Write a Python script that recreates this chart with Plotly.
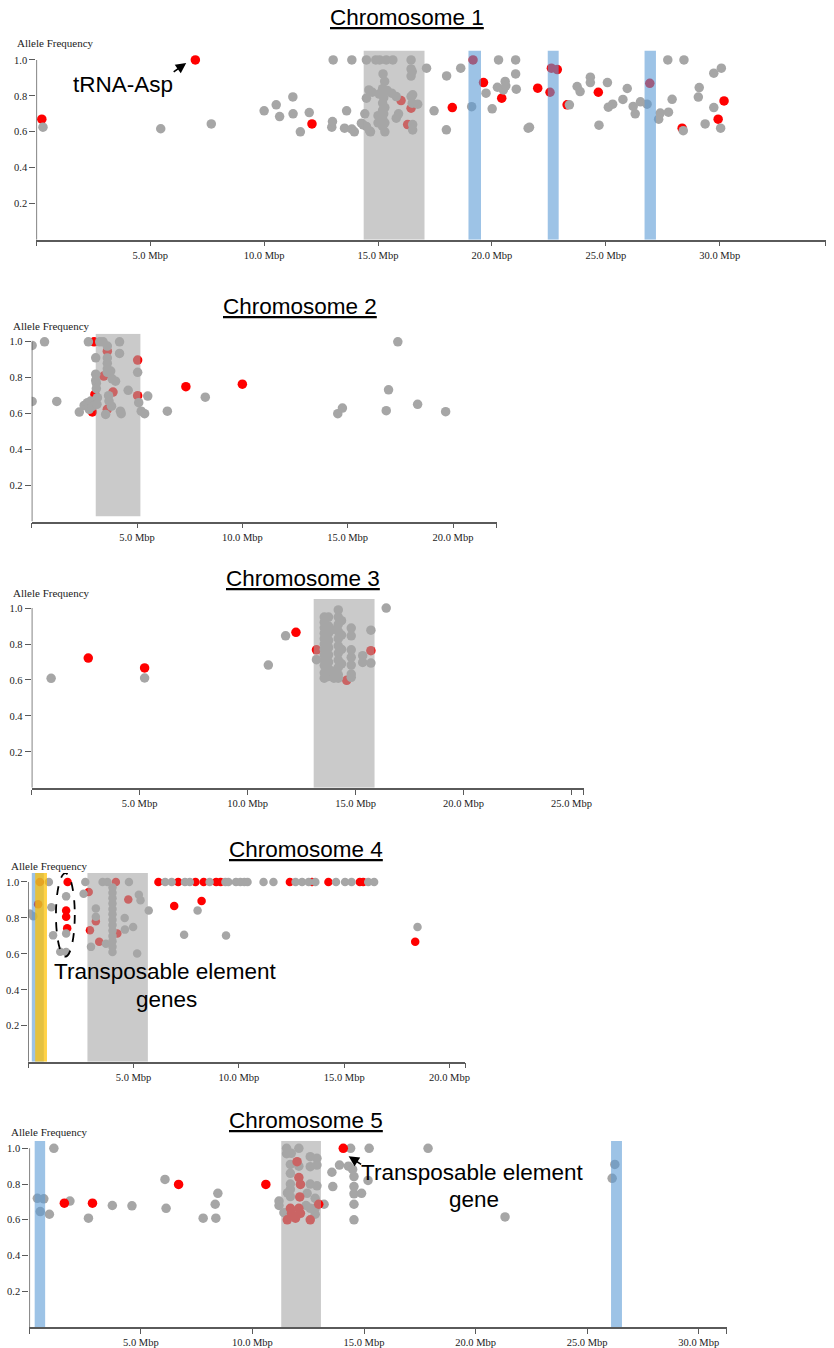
import plotly.graph_objects as go

W, H = 834, 1348

# ---------------- data (Mbp, allele frequency) ----------------
chr1_gray_mbp = [0.29, 5.46, 7.68, 10.0, 10.53, 10.68, 11.26, 11.27, 11.59, 11.98, 12.97, 13.0, 13.03, 13.53, 13.62,
                 13.85, 13.85, 13.96, 14.35, 14.42, 14.49, 14.67, 14.49, 14.6, 14.27, 14.49, 14.63, 14.9, 15.07, 15.36,
                 15.65, 16.45, 16.45, 16.45, 16.5, 15.22, 15.29, 15.2, 14.75, 15.05, 15.4, 15.6, 15.25, 15.2, 15.3,
                 15.2, 15.25, 15.2, 15.3, 15.2, 15.3, 15.0, 15.0, 15.8, 15.9, 15.8, 16.45, 16.5, 16.74, 16.52, 16.52,
                 16.52, 17.13, 17.46, 18.01, 18.0, 18.63, 19.11, 19.74, 20.01, 20.29, 20.24, 20.58, 20.5, 20.61, 21.04,
                 21.04, 21.07, 21.59, 21.65, 23.4, 23.74, 23.87, 24.32, 24.32, 25.07, 24.7, 25.11, 25.3, 25.75, 25.94,
                 26.2, 26.29, 26.52, 26.81, 27.32, 27.39, 27.72, 27.75, 27.91, 28.43, 28.4, 29.06, 29.1, 29.36, 29.74,
                 29.74, 30.07, 30.04]
chr1_gray_af = [0.626, 0.617, 0.644, 0.717, 0.75, 0.685, 0.794, 0.70, 0.60, 0.707, 0.626, 0.657, 1.0, 0.62, 0.717,
                1.0, 0.615, 0.60, 0.639, 0.70, 1.0, 0.60, 0.787, 0.833, 0.648, 0.63, 0.605, 1.0, 1.0, 1.0,
                1.0, 1.0, 0.95, 0.91, 0.935, 0.922, 0.88, 0.84, 0.82, 0.81, 0.83, 0.815, 0.79, 0.76, 0.735,
                0.72, 0.70, 0.674, 0.65, 0.63, 0.60, 0.69, 0.65, 0.676, 0.70, 0.796, 0.796, 0.759, 0.754, 0.806, 0.64,
                0.61, 0.954, 0.717, 0.911, 0.611, 0.954, 0.74, 0.815, 0.728, 1.0, 0.848, 0.88, 0.833, 0.856, 1.0,
                0.922, 0.837, 0.62, 0.625, 0.75, 0.852, 0.824, 0.904, 0.874, 0.874, 0.637, 0.737, 0.754, 0.78, 0.841,
                0.741, 0.70, 0.767, 0.754, 0.67, 0.704, 1.0, 0.709, 0.781, 1.0, 0.606, 0.793, 0.846, 0.644, 0.926,
                0.735, 0.954, 0.62]
chr1_red_mbp = [0.24, 6.98, 12.1, 16.01, 16.45, 16.3, 18.26, 19.17, 19.63, 20.43, 22.01, 22.61, 22.87, 22.55, 23.3,
                24.67, 26.93, 28.35, 29.93, 30.19]
chr1_red_af = [0.67, 1.0, 0.644, 0.774, 0.731, 0.64, 0.735, 1.0, 0.874, 0.787, 0.843, 0.954, 0.946, 0.82, 0.75,
               0.82, 0.87, 0.62, 0.67, 0.772]

chr2_gray_mbp = [0.02, 0.02, 0.61, 1.19, 2.26, 2.49, 2.6, 2.65, 2.8, 2.73, 2.88, 2.69, 3.23, 3.04, 3.04, 3.04, 3.07,
                 3.07, 3.12, 3.1, 3.39, 3.59, 3.59, 3.59, 3.59, 3.59, 3.75, 3.82, 3.98, 3.67, 3.79, 3.51, 3.65, 4.17,
                 4.17, 4.58, 4.21, 4.25, 5.03, 5.08, 5.2, 5.36, 5.51, 6.44, 8.24, 14.53, 14.75, 16.83, 16.94, 17.38,
                 18.32, 19.65]
chr2_gray_af = [0.98, 0.668, 1.0, 0.668, 0.609, 0.646, 0.652, 0.661, 0.67, 0.624, 0.64, 1.0, 1.0, 0.911, 0.82, 0.785,
                0.77, 0.74, 0.689, 0.652, 1.0, 0.976, 0.91, 0.88, 0.85, 0.83, 0.837, 0.794, 0.781, 0.67, 0.642, 0.596,
                0.70, 1.0, 0.935, 0.73, 0.614, 0.60, 0.83, 0.661, 0.614, 0.60, 0.698, 0.614, 0.692, 0.60, 0.631,
                0.617, 0.733, 1.0, 0.652, 0.611]
chr2_red_mbp = [2.96, 2.88, 3.0, 3.42, 3.59, 3.86, 3.59, 5.03, 5.03, 7.32, 10.0]
chr2_red_af = [1.0, 0.61, 0.707, 0.809, 0.948, 0.72, 0.624, 0.898, 0.70, 0.75, 0.764]

chr3_gray_mbp = [0.9, 5.23, 10.96, 11.76, 13.19, 16.42,
                 13.55, 13.55, 13.55, 13.55, 13.55, 13.55, 13.55, 13.55, 13.55, 13.55, 13.55, 13.55,
                 13.75, 13.75, 13.75, 13.75, 13.75, 13.75, 13.75, 13.75, 13.75,
                 14.2, 14.2, 14.2, 14.2, 14.2, 14.2, 14.2, 14.2, 14.2, 14.2, 14.2,
                 14.35, 14.35, 14.35, 14.35, 13.9, 13.9, 14.0,
                 14.8, 14.8, 14.8, 14.8, 14.8, 14.8, 14.8, 15.33, 15.33, 15.71, 15.71]
chr3_gray_af = [0.609, 0.611, 0.683, 0.846, 0.713, 1.0,
                0.95, 0.92, 0.89, 0.86, 0.83, 0.80, 0.77, 0.74, 0.71, 0.68, 0.64, 0.61,
                0.95, 0.90, 0.86, 0.82, 0.78, 0.74, 0.70, 0.66, 0.62,
                0.99, 0.95, 0.91, 0.87, 0.83, 0.79, 0.75, 0.71, 0.67, 0.63, 0.61,
                0.93, 0.85, 0.77, 0.69, 0.88, 0.65, 0.61,
                0.889, 0.846, 0.768, 0.726, 0.683, 0.633, 0.615, 0.735, 0.698, 0.877, 0.694]
chr3_red_mbp = [2.62, 5.23, 12.24, 13.19, 14.59, 15.71]
chr3_red_af = [0.722, 0.667, 0.865, 0.768, 0.598, 0.763]

chr4_gray_mbp = [0.07, 0.24, 0.98, 1.1, 1.18, 1.8, 1.8, 1.52, 1.8, 2.71, 2.63, 3.21, 3.21, 2.98, 3.53, 3.76, 4.78,
                 4.0, 4.0, 4.0, 4.0, 4.0, 4.0, 4.0, 4.0, 4.0, 4.0, 4.0, 4.0, 4.0,
                 3.69, 4.58, 4.59, 4.98, 5.17, 5.25, 5.33, 5.72,
                 6.5, 6.81, 7.44, 7.67, 8.61, 9.36, 9.5, 9.86, 10.07, 10.26, 10.41, 11.17, 11.64, 12.69, 13.0, 13.31,
                 13.63, 14.61, 15.04, 15.35, 16.14, 16.42,
                 8.04, 7.4, 9.39, 18.48]
chr4_gray_af = [0.824, 0.81, 1.0, 0.86, 0.703, 0.92, 0.713, 0.612, 0.611, 1.0, 0.935, 0.852, 0.806, 0.639, 1.0, 1.0, 1.0,
                0.97, 0.94, 0.91, 0.88, 0.85, 0.82, 0.79, 0.76, 0.73, 0.70, 0.67, 0.64, 0.61,
                0.657, 0.80, 0.735, 0.75, 0.602, 0.929, 0.898, 0.842,
                1.0, 1.0, 1.0, 1.0, 1.0, 1.0, 1.0, 1.0, 1.0, 1.0, 1.0, 1.0, 1.0, 1.0, 1.0, 1.0,
                1.0, 1.0, 1.0, 1.0, 1.0, 1.0,
                0.842, 0.707, 0.702, 0.75]
chr4_red_mbp = [0.55, 0.47, 1.87, 1.8, 1.8, 1.85, 2.87, 3.21, 2.93, 3.37, 4.16, 4.75, 4.23, 6.18, 7.12, 7.94, 8.33,
                8.92, 9.13, 12.42, 13.47, 14.25, 15.74, 15.9, 6.93, 8.23, 18.37]
chr4_red_af = [1.0, 0.876, 1.0, 0.842, 0.806, 0.742, 0.944, 0.781, 0.731, 0.667, 1.0, 0.902, 0.713, 1.0, 1.0, 1.0, 1.0,
               1.0, 1.0, 1.0, 1.0, 1.0, 1.0, 1.0, 0.867, 0.894, 0.667]

chr5_gray_mbp = [0.36, 0.65, 0.49, 0.9, 1.1, 1.82, 2.65, 3.72, 4.6, 6.08, 6.13, 7.79, 8.33, 8.45, 8.36,
                 11.19, 11.19, 11.74, 12.08, 11.53, 11.53, 11.7, 11.7, 11.7, 11.7, 11.7, 11.57, 12.08, 12.59, 12.89,
                 12.89, 12.59, 12.89, 12.45, 12.81, 12.81, 12.81, 12.59, 11.41, 12.4, 13.21, 12.59,
                 13.56, 13.9, 13.6, 14.4, 15.23, 14.3, 14.49, 14.55, 14.55, 14.55, 14.55, 14.55, 14.89, 15.18,
                 17.87, 21.32, 26.24, 26.12]
chr5_gray_af = [0.72, 0.717, 0.646, 0.631, 1.0, 0.705, 0.609, 0.68, 0.678, 0.826, 0.664, 0.609, 0.687, 0.748, 0.609,
                0.705, 0.68, 0.972, 1.0, 1.0, 0.97, 0.91, 0.86, 0.80, 0.77, 0.73, 0.75, 0.90, 0.897, 0.944,
                0.906, 0.80, 0.79, 0.748, 0.72, 0.664, 0.631, 0.664, 0.64, 0.68, 0.687, 0.953,
                0.866, 0.906, 0.786, 1.0, 1.0, 0.90, 0.882, 0.842, 0.786, 0.745, 0.687, 0.60, 0.748, 0.82,
                1.0, 0.616, 0.91, 0.832]
chr5_red_mbp = [1.57, 2.83, 6.69, 10.6, 12.0, 12.08, 12.15, 12.12, 11.7, 12.08, 11.75, 12.15, 11.56, 11.93, 12.59,
                12.97, 14.07]
chr5_red_af = [0.693, 0.693, 0.798, 0.798, 0.925, 0.836, 0.798, 0.728, 0.664, 0.664, 0.636, 0.636, 0.60, 0.609, 0.60,
               0.687, 1.0]

# highlighted genomic regions (start, end) in Mbp
chr1_gray_regions = [(14.37, 17.04)]
chr1_blue_regions = [(18.97, 19.52), (22.45, 22.93), (26.7, 27.2)]
chr2_gray_regions = [(3.04, 5.16)]
chr2_blue_regions = []
chr3_gray_regions = [(13.06, 15.88)]
chr3_blue_regions = []
chr4_gray_regions = [(2.81, 5.68)]
chr4_blue_regions = [(0.17, 0.74)]
chr4_yellow_regions = [(0.33, 0.89)]
chr5_gray_regions = [(11.29, 13.07)]
chr5_blue_regions = [(0.24, 0.71), (26.07, 26.56)]

x_tick_mbp = [0, 5, 10, 15, 20, 25, 30]
x_tick_text = ["", "5.0 Mbp", "10.0 Mbp", "15.0 Mbp", "20.0 Mbp", "25.0 Mbp", "30.0 Mbp"]
y_tick_vals = [0.2, 0.4, 0.6, 0.8, 1.0]
y_tick_text = ["0.2", "0.4", "0.6", "0.8", "1.0"]
chrom_titles = ["Chromosome 1", "Chromosome 2", "Chromosome 3", "Chromosome 4", "Chromosome 5"]

# ---------------- styling / geometry ----------------
GRAY = "rgb(166,166,166)"
RED = "rgb(255,0,0)"
AXIS = "#5a5a5a"
BAND_GRAY = "rgba(166,166,166,0.6)"
BAND_BLUE = "rgba(91,155,213,0.6)"
BAND_YELLOW = "rgba(255,192,0,0.72)"
SERIF = "Liberation Serif, Times New Roman, serif"
SANS = "Liberation Sans, Arial, sans-serif"

panels = [
    dict(x0=36.7, x1=834, ppm=23.0, y0=240, ytop=50.5, ppy=180, band_bottom=0.0, title_x=410.5, title_y=18,
         af_label=(15, 43), size=9.5, red_on_top=False,
         gray=(chr1_gray_mbp, chr1_gray_af), red=(chr1_red_mbp, chr1_red_af),
         gray_regions=chr1_gray_regions, blue_regions=chr1_blue_regions, yellow_regions=[]),
    dict(x0=32, x1=501.7, ppm=21.27, y0=522.3, ytop=334.3, ppy=180, band_bottom=0.03, title_x=302.5, title_y=307,
         af_label=(11.5, 326.5), size=9.5, red_on_top=False,
         gray=(chr2_gray_mbp, chr2_gray_af), red=(chr2_red_mbp, chr2_red_af),
         gray_regions=chr2_gray_regions, blue_regions=chr2_blue_regions, yellow_regions=[]),
    dict(x0=32, x1=589.4, ppm=21.8, y0=789, ytop=600, ppy=180, band_bottom=0.0, title_x=306, title_y=579,
         af_label=(11.5, 593.5), size=9.5, red_on_top=False,
         gray=(chr3_gray_mbp, chr3_gray_af), red=(chr3_red_mbp, chr3_red_af),
         gray_regions=chr3_gray_regions, blue_regions=chr3_blue_regions, yellow_regions=[]),
    dict(x0=28.5, x1=470, ppm=21.27, y0=1063.3, ytop=874.3, ppy=180, band_bottom=0.0, title_x=308.5, title_y=850.5,
         af_label=(9.5, 867.5), size=8.5, red_on_top=False,
         gray=(chr4_gray_mbp, chr4_gray_af), red=(chr4_red_mbp, chr4_red_af),
         gray_regions=chr4_gray_regions, blue_regions=chr4_blue_regions, yellow_regions=chr4_yellow_regions),
    dict(x0=29.6, x1=734, ppm=22.53, y0=1329, ytop=1142.7, ppy=179, band_bottom=0.0, title_x=309, title_y=1122.5,
         af_label=(9.5, 1133.5), size=9.5, red_on_top=True,
         gray=(chr5_gray_mbp, chr5_gray_af), red=(chr5_red_mbp, chr5_red_af),
         gray_regions=chr5_gray_regions, blue_regions=chr5_blue_regions, yellow_regions=[]),
]


def px_x(x):
    return x / W


def px_y(y):
    return 1 - y / H


fig = go.Figure()
layout = {}
shapes = []
annotations = []

for i, p in enumerate(panels):
    n = i + 1
    sfx = "" if n == 1 else str(n)
    xref, yref = "x" + sfx, "y" + sfx
    xr = (p["x1"] - p["x0"]) / p["ppm"]
    yr = (p["y0"] - p["ytop"]) / p["ppy"]

    tv = [v for v in x_tick_mbp if v < xr] + [xr - 0.001]
    tt = [x_tick_text[x_tick_mbp.index(v)] for v in x_tick_mbp if v < xr] + [""]

    layout["xaxis" + sfx] = dict(
        domain=[px_x(p["x0"]), min(1.0, px_x(p["x1"]))], range=[0, xr], anchor=yref,
        showgrid=False, zeroline=False, showline=True, linecolor=AXIS, linewidth=1.5,
        ticks="outside", ticklen=5, tickwidth=1.2, tickcolor=AXIS,
        tickvals=tv, ticktext=tt, tickfont=dict(family=SERIF, size=10.5, color="#222"),
        fixedrange=True,
    )
    layout["yaxis" + sfx] = dict(
        domain=[px_y(p["y0"]), px_y(p["ytop"])], range=[0, yr], anchor=xref,
        showgrid=False, zeroline=False, showline=False,
        ticks="outside", ticklen=6, tickwidth=1.2, tickcolor=AXIS,
        tickvals=y_tick_vals, ticktext=y_tick_text,
        tickfont=dict(family=SERIF, size=10.5, color="#222"), fixedrange=True,
    )

    # y-axis line (0 to 1.0)
    shapes.append(dict(type="line", xref=xref, yref=yref, x0=0, x1=0, y0=0, y1=1.0,
                       line=dict(color=AXIS, width=1.5), layer="above"))

    gx, gy = p["gray"]
    rx, ry = p["red"]
    gray_tr = go.Scatter(x=gx, y=gy, mode="markers", xaxis=xref, yaxis=yref, hoverinfo="skip",
                         marker=dict(color=GRAY, size=p["size"], line=dict(width=0)))
    red_tr = go.Scatter(x=rx, y=ry, mode="markers", xaxis=xref, yaxis=yref, hoverinfo="skip",
                        marker=dict(color=RED, size=p["size"], line=dict(width=0)))
    if p["red_on_top"]:
        fig.add_trace(gray_tr)
        fig.add_trace(red_tr)
    else:
        fig.add_trace(red_tr)
        fig.add_trace(gray_tr)

    for (a, b) in p["blue_regions"]:
        shapes.append(dict(type="rect", xref=xref, yref=yref, x0=a, x1=b, y0=p["band_bottom"], y1=yr,
                           fillcolor=BAND_BLUE, line=dict(width=0), layer="above"))
    for (a, b) in p["yellow_regions"]:
        shapes.append(dict(type="rect", xref=xref, yref=yref, x0=a, x1=b, y0=p["band_bottom"], y1=yr,
                           fillcolor=BAND_YELLOW, line=dict(width=0), layer="above"))
    for (a, b) in p["gray_regions"]:
        shapes.append(dict(type="rect", xref=xref, yref=yref, x0=a, x1=b, y0=p["band_bottom"], y1=yr,
                           fillcolor=BAND_GRAY, line=dict(width=0), layer="above"))

    # chromosome title
    annotations.append(dict(text="<u>" + chrom_titles[i] + "</u>", xref="paper", yref="paper",
                            x=px_x(p["title_x"]), y=px_y(p["title_y"]), xanchor="center", yanchor="middle",
                            showarrow=False, font=dict(family=SANS, size=22.5, color="#000")))
    # y-axis title
    annotations.append(dict(text="Allele Frequency", xref="paper", yref="paper",
                            x=px_x(p["af_label"][0]), y=px_y(p["af_label"][1]), xanchor="left",
                            yanchor="middle", showarrow=False,
                            font=dict(family=SERIF, size=11, color="#222")))

# --- callouts ---
ann_font = dict(family=SANS, size=22.5, color="#000")
# Chromosome 1: tRNA-Asp
annotations.append(dict(text="tRNA-Asp", xref="paper", yref="paper", x=px_x(124.5), y=px_y(85),
                        xanchor="center", yanchor="middle", showarrow=False, font=ann_font))
annotations.append(dict(text="", xref="x", yref="y", x=(188 - 36.7) / 23.0, y=(240 - 63) / 180,
                        ax=-14, ay=10, showarrow=True, arrowhead=2, arrowsize=1.3, arrowwidth=1.6,
                        arrowcolor="#000", standoff=0))
# Chromosome 4: transposable element genes
annotations.append(dict(text="Transposable element", xref="paper", yref="paper", x=px_x(167.5), y=px_y(973),
                        xanchor="center", yanchor="middle", showarrow=False, font=ann_font))
annotations.append(dict(text="genes", xref="paper", yref="paper", x=px_x(168.5), y=px_y(1000.5),
                        xanchor="center", yanchor="middle", showarrow=False, font=ann_font))
shapes.append(dict(type="circle", xref="x4", yref="y4", x0=(56.5 - 28.5) / 21.27, x1=(75.5 - 28.5) / 21.27,
                   y0=(1063.3 - 958) / 180, y1=(1063.3 - 874.5) / 180,
                   line=dict(color="#000", width=1.8, dash="dash"), layer="above"))
# Chromosome 5: transposable element gene
annotations.append(dict(text="Transposable element", xref="paper", yref="paper", x=px_x(477.5), y=px_y(1174),
                        xanchor="center", yanchor="middle", showarrow=False, font=ann_font))
annotations.append(dict(text="gene", xref="paper", yref="paper", x=px_x(478.5), y=px_y(1201.5),
                        xanchor="center", yanchor="middle", showarrow=False, font=ann_font))
annotations.append(dict(text="", xref="x5", yref="y5", x=(352 - 29.6) / 22.53, y=(1329 - 1158) / 179,
                        ax=14, ay=9, showarrow=True, arrowhead=2, arrowsize=1.3, arrowwidth=1.6,
                        arrowcolor="#000", standoff=0))

fig.update_layout(
    width=W, height=H, margin=dict(l=0, r=0, t=0, b=0),
    plot_bgcolor="white", paper_bgcolor="white", showlegend=False,
    shapes=shapes, annotations=annotations, **layout,
)

fig.write_html("out.html", config={"displayModeBar": False, "staticPlot": False},
               post_script="document.body.style.margin='0px';document.body.style.overflow='hidden';")
